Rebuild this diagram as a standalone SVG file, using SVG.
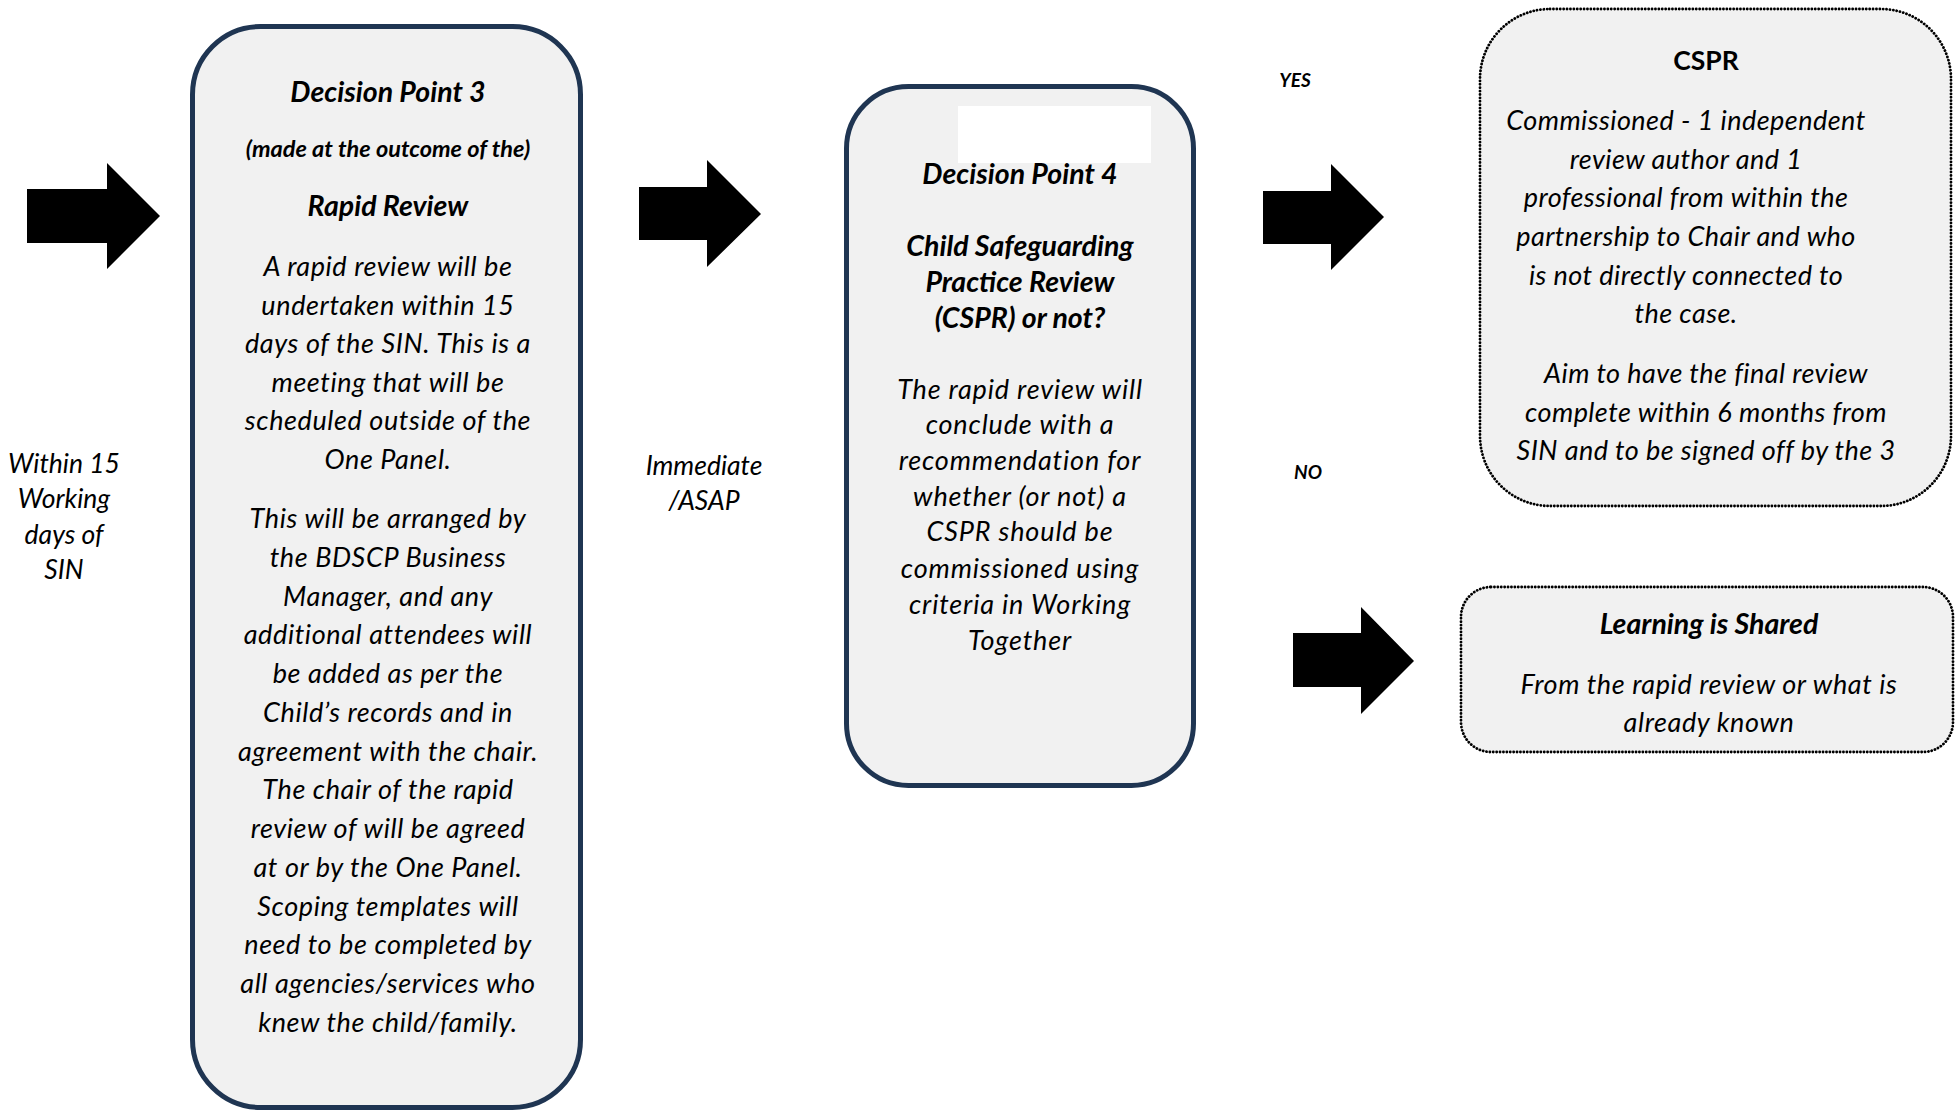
<svg xmlns="http://www.w3.org/2000/svg" width="1955" height="1113" viewBox="0 0 1955 1113">
  <style>
    text { font-family: Lato, "Liberation Sans", sans-serif; fill: #000; text-anchor: middle; }
    .title { font-size: 28.5px; font-weight: bold; font-style: italic; }
    .sub { font-size: 23.5px; font-weight: bold; font-style: italic; }
    .body { font-size: 27px; font-style: italic; letter-spacing: 0.6px; }
    .wide { letter-spacing: 0.85px; }
    .cspr-body { letter-spacing: 0.45px; }
    .side { font-size: 26.5px; font-style: italic; }
    .tag { font-size: 19px; font-weight: bold; font-style: italic; }
    .plain-bold { font-size: 26.5px; font-weight: bold; }
    .solid-box { fill: #f1f1f1; stroke: #1f3552; stroke-width: 5; }
    .dotted-box { fill: #f1f1f1; stroke: #000; stroke-width: 2.8; stroke-dasharray: 0.1 3.3; stroke-linecap: round; }
    .arrow { fill: #000; }
  </style>
  <defs>
    <clipPath id="learning-clip">
      <rect x="1461" y="587" width="492" height="165" rx="30"/>
    </clipPath>
  </defs>

  <rect width="1955" height="1113" fill="#fff"/>

  <!-- block arrows between stages -->
  <g id="connectors">
    <polygon class="arrow" points="27,189 107,189 107,163 160,216 107,269 107,243 27,243"/>
    <polygon class="arrow" points="639,187 707,187 707,160 761,214 707,267 707,240 639,240"/>
    <polygon class="arrow" points="1263,191 1331,191 1331,164 1384,217 1331,270 1331,244 1263,244"/>
    <polygon class="arrow" points="1293,633 1361,633 1361,607 1414,661 1361,714 1361,687 1293,687"/>
  </g>

  <!-- timing and outcome labels -->
  <g id="label-within">
    <text class="side" x="64" y="473">Within 15</text>
    <text class="side" x="64" y="508">Working</text>
    <text class="side" x="64" y="544">days of</text>
    <text class="side" x="64" y="579">SIN</text>
  </g>
  <g id="label-immediate">
    <text class="side" x="704" y="475">Immediate</text>
    <text class="side" x="704" y="510">/ASAP</text>
  </g>
  <g id="label-yes"><text class="tag" x="1295" y="87">YES</text></g>
  <g id="label-no"><text class="tag" x="1308" y="479">NO</text></g>

  <!-- Decision Point 3 -->
  <g id="decision-point-3">
    <rect class="solid-box" x="192.5" y="26.5" width="388" height="1081" rx="68"/>
    <text class="title" x="388" y="102">Decision Point 3</text>
    <text class="sub" x="388" y="157">(made at the outcome of the)</text>
    <text class="title" x="388" y="216">Rapid Review</text>
    <text class="body" x="388" y="276">A rapid review will be</text>
    <text class="body" x="388" y="314.5">undertaken within 15</text>
    <text class="body" x="388" y="353">days of the SIN. This is a</text>
    <text class="body" x="388" y="391.5">meeting that will be</text>
    <text class="body" x="388" y="430">scheduled outside of the</text>
    <text class="body" x="388" y="468.5">One Panel.</text>
    <text class="body" x="388" y="528">This will be arranged by</text>
    <text class="body" x="388" y="567">the BDSCP Business</text>
    <text class="body" x="388" y="605.5">Manager, and any</text>
    <text class="body" x="388" y="644">additional attendees will</text>
    <text class="body" x="388" y="683">be added as per the</text>
    <text class="body" x="388" y="722">Child’s records and in</text>
    <text class="body" x="388" y="760.5">agreement with the chair.</text>
    <text class="body" x="388" y="799">The chair of the rapid</text>
    <text class="body" x="388" y="838">review of will be agreed</text>
    <text class="body" x="388" y="877">at or by the One Panel.</text>
    <text class="body" x="388" y="915.5">Scoping templates will</text>
    <text class="body" x="388" y="954">need to be completed by</text>
    <text class="body" x="388" y="993">all agencies/services who</text>
    <text class="body" x="388" y="1032">knew the child/family.</text>
  </g>

  <!-- Decision Point 4 -->
  <g id="decision-point-4">
    <rect class="solid-box" x="846.5" y="86.5" width="347" height="699" rx="62"/>
    <rect x="958" y="106" width="193" height="57" fill="#fff"/>
    <text class="title" x="1020" y="184">Decision Point 4</text>
    <text class="title" x="1020" y="256">Child Safeguarding</text>
    <text class="title" x="1020" y="292">Practice Review</text>
    <text class="title" x="1020" y="328">(CSPR) or not?</text>
    <text class="body wide" x="1020" y="399">The rapid review will</text>
    <text class="body wide" x="1020" y="434">conclude with a</text>
    <text class="body wide" x="1020" y="470">recommendation for</text>
    <text class="body wide" x="1020" y="506">whether (or not) a</text>
    <text class="body wide" x="1020" y="541">CSPR should be</text>
    <text class="body wide" x="1020" y="578">commissioned using</text>
    <text class="body wide" x="1020" y="614">criteria in Working</text>
    <text class="body wide" x="1020" y="650">Together</text>
  </g>

  <!-- CSPR outcome -->
  <g id="cspr">
    <rect class="dotted-box" x="1480" y="9" width="471" height="497" rx="70"/>
    <text class="plain-bold" x="1706" y="70">CSPR</text>
    <text class="body cspr-body" x="1686" y="130">Commissioned - 1 independent</text>
    <text class="body cspr-body" x="1686" y="169">review author and 1</text>
    <text class="body cspr-body" x="1686" y="207">professional from within the</text>
    <text class="body cspr-body" x="1686" y="246">partnership  to Chair and who</text>
    <text class="body cspr-body" x="1686" y="285">is not directly connected to</text>
    <text class="body cspr-body" x="1686" y="323">the case.</text>
    <text class="body cspr-body" x="1706" y="383">Aim to have the final review</text>
    <text class="body cspr-body" x="1706" y="422">complete within 6 months from</text>
    <text class="body cspr-body" x="1706" y="460">SIN and to be signed off by the 3</text>
  </g>

  <!-- Learning is Shared outcome -->
  <g id="learning-shared">
    <rect class="dotted-box" x="1461" y="587" width="492" height="165" rx="30"/>
    <text class="title" x="1709" y="634">Learning is Shared</text>
    <g clip-path="url(#learning-clip)">
      <text class="body" x="1709" y="694">From the rapid review or what is</text>
      <text class="body" x="1709" y="732">already known</text>
    </g>
  </g>
</svg>
